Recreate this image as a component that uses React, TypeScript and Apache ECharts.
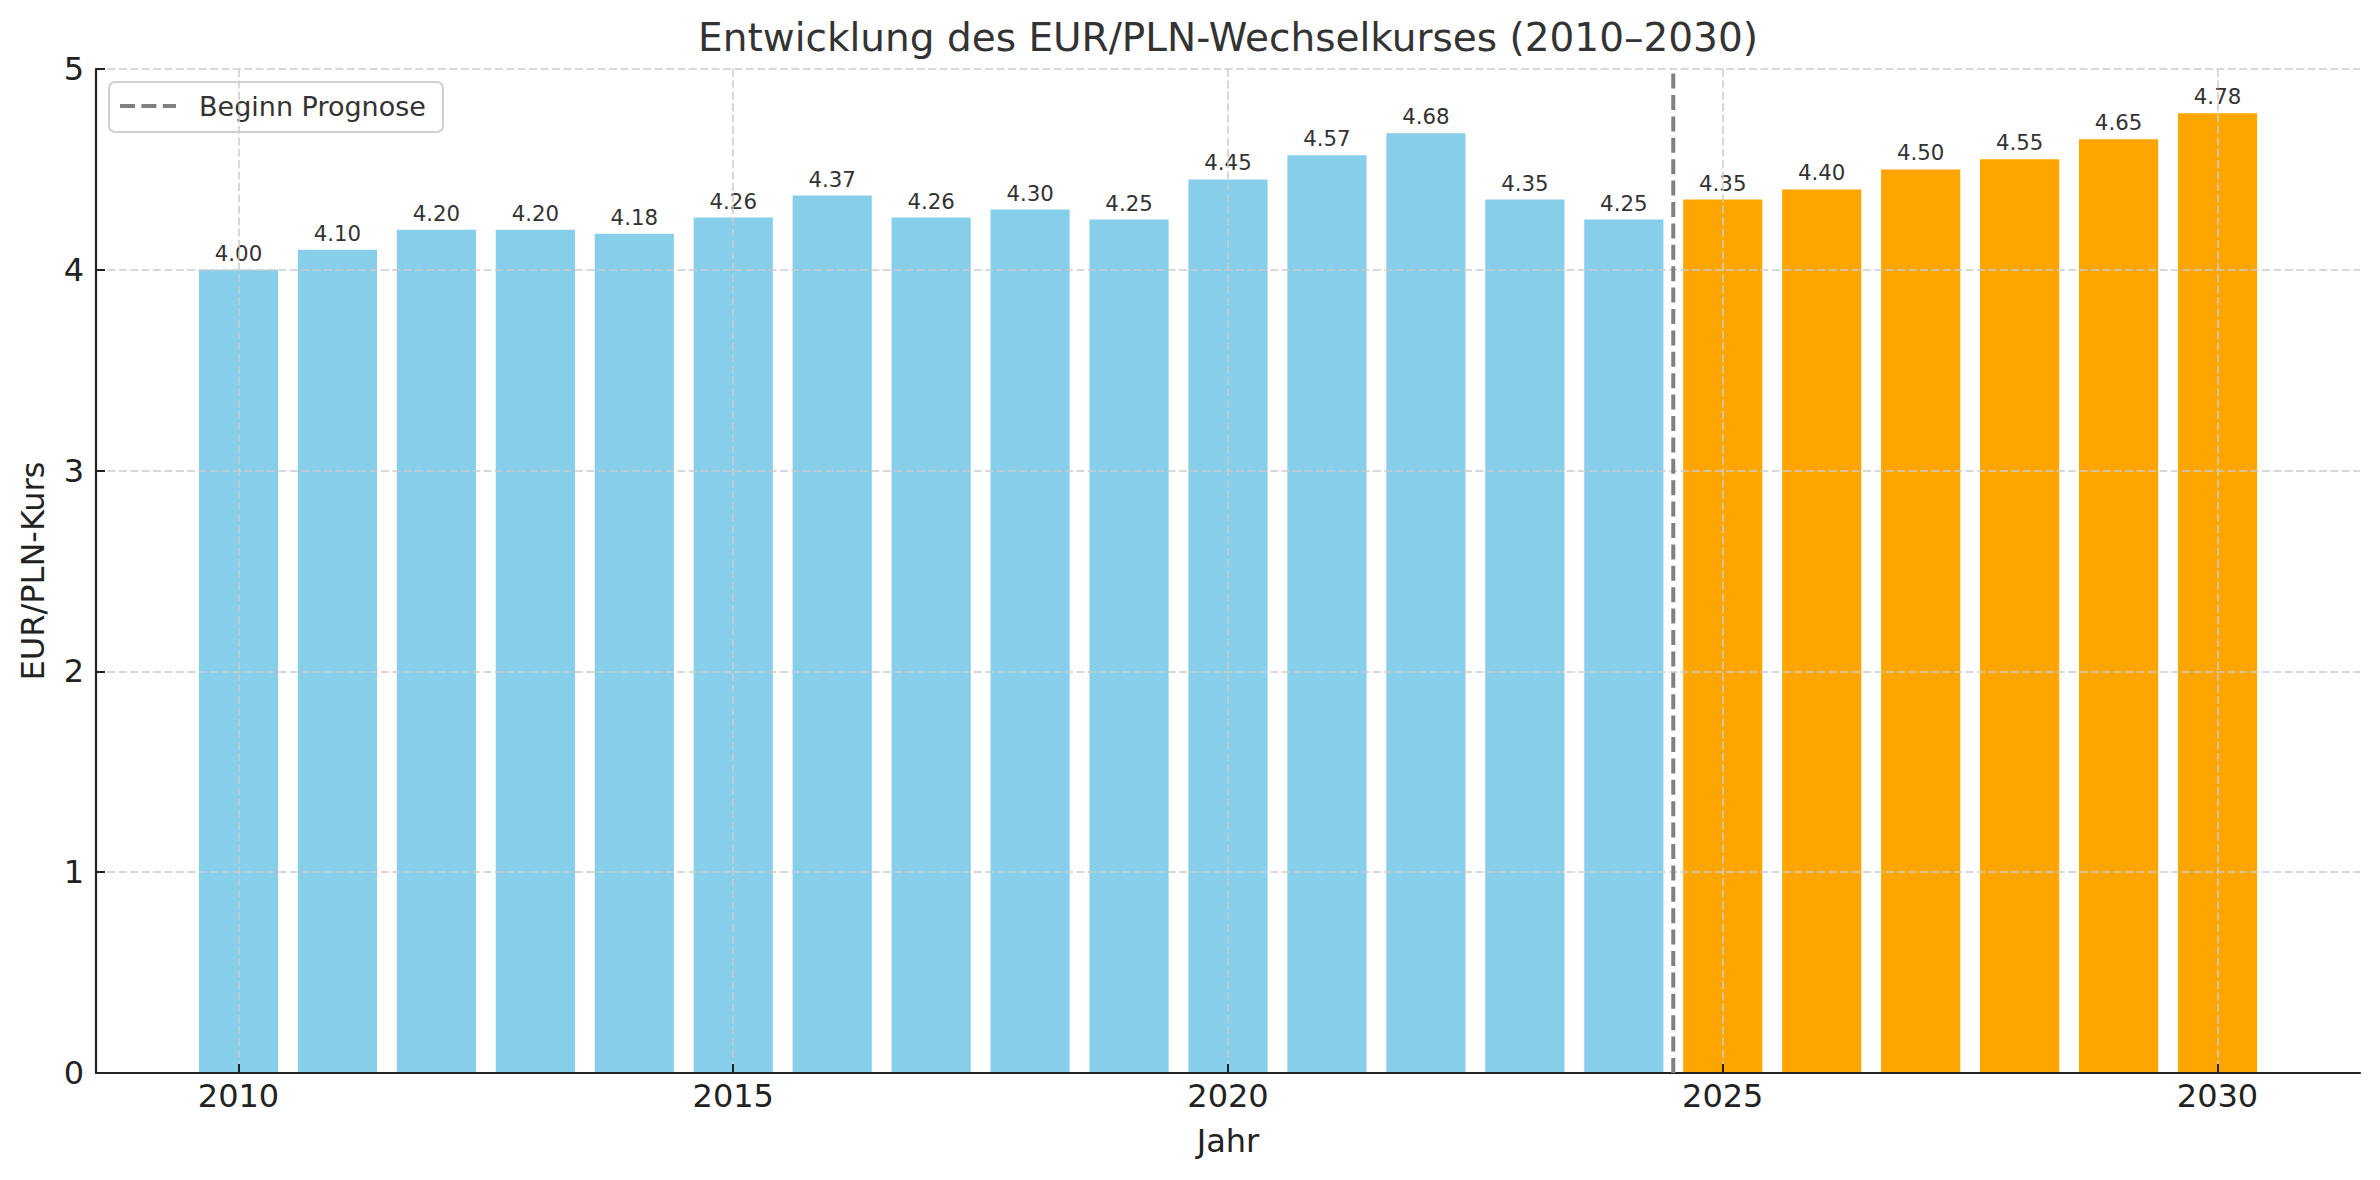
import React, { useEffect, useRef } from "react";
import * as echarts from "echarts";

// EUR/PLN yearly rates; from 2025 onward the values are a forecast
const years = [
  2010, 2011, 2012, 2013, 2014, 2015, 2016, 2017, 2018, 2019, 2020,
  2021, 2022, 2023, 2024, 2025, 2026, 2027, 2028, 2029, 2030,
];
const rates = [
  4.0, 4.1, 4.2, 4.2, 4.18, 4.26, 4.37, 4.26, 4.3, 4.25, 4.45,
  4.57, 4.68, 4.35, 4.25, 4.35, 4.4, 4.5, 4.55, 4.65, 4.78,
];
const forecastFrom = 2025;
const forecastMarker = 2024.5;
const xTickValues = [2010, 2015, 2020, 2025, 2030];
const yMin = 0;
const yMax = 5;
const yStep = 1;

const chartTitle = "Entwicklung des EUR/PLN-Wechselkurses (2010–2030)";
const xTitle = "Jahr";
const yTitle = "EUR/PLN-Kurs";
const legendLabel = "Beginn Prognose";

const FONT = "DejaVu Sans";
const HIST_COLOR = "#87CEEB";
const FORECAST_COLOR = "#FFA500";
const BAR_WIDTH = 0.8;

const GRID = { left: 96, right: 20, top: 69, bottom: 107 };
const W = 2380;
const H = 1180;

export default function App() {
  const ref = useRef<HTMLDivElement>(null);

  useEffect(() => {
    if (!ref.current) return;
    const chart = echarts.init(ref.current, null, { renderer: "svg" });

    const xPad = (years[years.length - 1] - years[0] + BAR_WIDTH) * 0.05;
    const xMin = years[0] - BAR_WIDTH / 2 - xPad;
    const xMax = years[years.length - 1] + BAR_WIDTH / 2 + xPad;

    const plotCx = GRID.left + (W - GRID.left - GRID.right) / 2;
    const plotCy = GRID.top + (H - GRID.top - GRID.bottom) / 2;

    const gridLine = { show: true, lineStyle: { color: "#cccccc", width: 1.5, type: [8, 3.4] as number[] } };

    const option: echarts.EChartsOption = {
      animation: false,
      backgroundColor: "#ffffff",
      textStyle: { fontFamily: FONT },
      grid: { ...GRID, containLabel: false },
      xAxis: {
        type: "value",
        min: xMin,
        max: xMax,
        z: 3,
        axisLine: { show: true, onZero: false, lineStyle: { color: "#222", width: 2.2 } },
        axisTick: { show: true, inside: true, length: 9, customValues: xTickValues, lineStyle: { color: "#222", width: 2 } },
        axisLabel: { customValues: xTickValues, fontSize: 32, color: "#222", margin: 7, fontFamily: FONT, formatter: (v: number) => String(v) },
        splitLine: gridLine,
      },
      yAxis: {
        type: "value",
        min: yMin,
        max: yMax,
        interval: yStep,
        z: 3,
        axisLine: { show: true, lineStyle: { color: "#222", width: 2.2 } },
        axisTick: { show: true, inside: true, length: 9, lineStyle: { color: "#222", width: 2 } },
        axisLabel: { fontSize: 32, color: "#222", margin: 12, fontFamily: FONT },
        splitLine: gridLine,
      },
      series: [
        {
          type: "custom",
          name: "Kurs",
          z: 2,
          data: years.map((y, i) => [y, rates[i]]),
          renderItem: (params: any, api: any) => {
            const x = api.value(0) as number;
            const v = api.value(1) as number;
            const topLeft = api.coord([x - BAR_WIDTH / 2, v]);
            const bottomRight = api.coord([x + BAR_WIDTH / 2, 0]);
            const color = x >= forecastFrom ? FORECAST_COLOR : HIST_COLOR;
            return {
              type: "group",
              children: [
                {
                  type: "rect",
                  shape: {
                    x: topLeft[0],
                    y: topLeft[1],
                    width: bottomRight[0] - topLeft[0],
                    height: bottomRight[1] - topLeft[1],
                  },
                  style: { fill: color },
                },
                {
                  type: "text",
                  x: (topLeft[0] + bottomRight[0]) / 2,
                  y: topLeft[1] - 6,
                  style: {
                    text: v.toFixed(2),
                    fill: "#333",
                    fontSize: 21.3,
                    fontFamily: FONT,
                    align: "center",
                    verticalAlign: "bottom",
                  },
                },
              ],
            };
          },
        },
        {
          type: "line",
          name: legendLabel,
          z: 5,
          data: [
            [forecastMarker, yMin],
            [forecastMarker, yMax],
          ],
          showSymbol: false,
          symbol: "none",
          lineStyle: { color: "#808080", width: 4, type: [15, 6.4] },
          silent: true,
        },
      ],
      graphic: [
        {
          type: "text",
          x: plotCx,
          y: 37,
          style: { text: chartTitle, fontSize: 39, fontFamily: FONT, fill: "#333", align: "center", verticalAlign: "middle" },
        },
        {
          type: "text",
          x: plotCx,
          y: 1141,
          style: { text: xTitle, fontSize: 32, fontFamily: FONT, fill: "#222", align: "center", verticalAlign: "middle" },
        },
        {
          type: "text",
          x: 33,
          y: plotCy,
          rotation: Math.PI / 2,
          style: { text: yTitle, fontSize: 32, fontFamily: FONT, fill: "#222", align: "center", verticalAlign: "middle" },
        },
        {
          type: "group",
          z: 20,
          children: [
            {
              type: "rect",
              shape: { x: 109, y: 82, width: 334, height: 50, r: 6 },
              style: { fill: "#ffffff", stroke: "#d0d0d0", lineWidth: 2 },
            },
            {
              type: "line",
              shape: { x1: 120, y1: 106, x2: 176, y2: 106 },
              style: { stroke: "#808080", lineWidth: 4, lineDash: [15, 6.4] },
            },
            {
              type: "text",
              x: 199,
              y: 106,
              style: { text: legendLabel, fontSize: 27, fontFamily: FONT, fill: "#333", align: "left", verticalAlign: "middle" },
            },
          ],
        },
      ],
    };

    chart.setOption(option);
    return () => chart.dispose();
  }, []);

  return <div ref={ref} style={{ position: "fixed", left: 0, top: 0, width: W, height: H }} />;
}
